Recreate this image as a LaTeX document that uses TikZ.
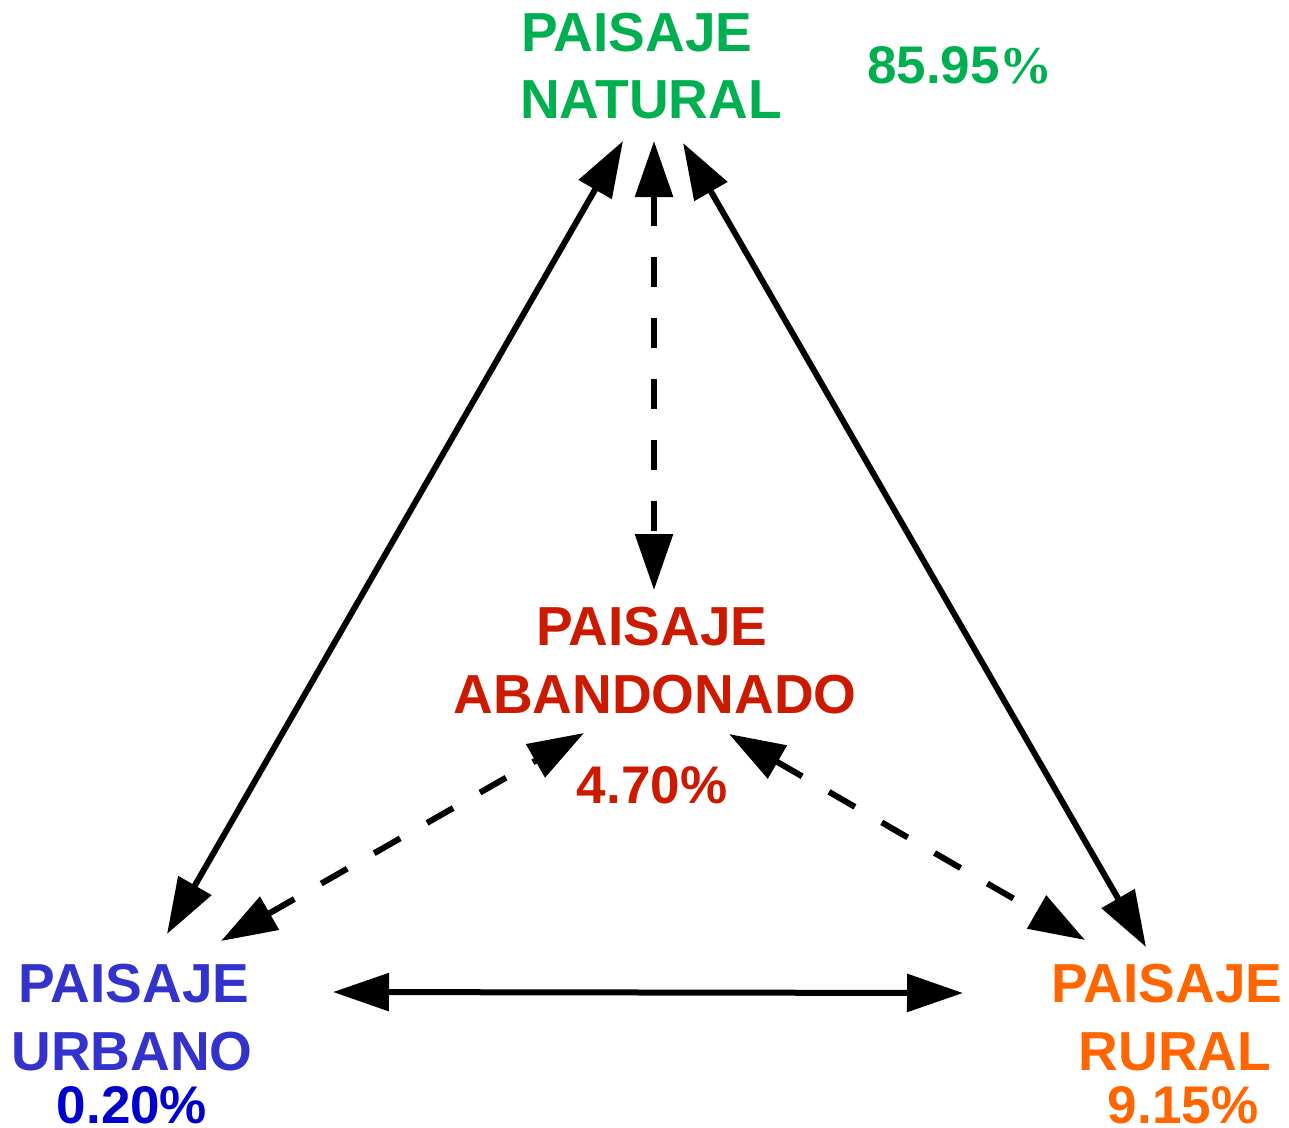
\documentclass[tikz,border=0pt]{standalone}
\usepackage{fontspec}
\setmainfont{Liberation Sans}
\newfontfamily\serifpct{Liberation Serif}
\usetikzlibrary{arrows.meta}
\definecolor{cgreen}{HTML}{00B050}
\definecolor{cred}{HTML}{CC1A00}
\definecolor{cblue}{HTML}{3333CC}
\definecolor{cdblue}{HTML}{0000CC}
\definecolor{corange}{HTML}{FF6600}
\tikzset{
  lbl/.style={inner sep=0pt, anchor=base, font=\fontsize{55}{66}\selectfont\bfseries},
  pct/.style={inner sep=0pt, anchor=base, font=\fontsize{53}{64}\selectfont\bfseries},
  link/.style={line width=6pt, {Triangle[length=56pt,width=37pt]}-{Triangle[length=56pt,width=37pt]}},
  dlink/.style={link, dash pattern=on 30pt off 31pt},
}
\begin{document}
\begin{tikzpicture}[x=1pt,y=-1pt]
\useasboundingbox (0,0) rectangle (1289,1127);
% labels
\node[lbl,text=cgreen] (nat1) at (637,51) {PAISAJE};
\node[lbl,text=cgreen] (nat2) at (651,118) {NATURAL};
\node[pct,text=cgreen] (natp) at (960,83) {85.95{\serifpct\%}};
\node[lbl,text=cred] (aba1) at (652,645) {PAISAJE};
\node[lbl,text=cred] (aba2) at (655,713) {ABANDONADO};
\node[pct,text=cred] (abap) at (652,803) {4.70\%};
\node[lbl,text=cblue] (urb1) at (134,1002) {PAISAJE};
\node[lbl,text=cblue] (urb2) at (132,1070) {URBANO};
\node[pct,text=cdblue] (urbp) at (132,1123) {0.20\%};
\node[lbl,text=corange] (rur1) at (1167,1002) {PAISAJE};
\node[lbl,text=corange] (rur2) at (1175,1070) {RURAL};
\node[pct,text=corange] (rurp) at (1183,1123) {9.15\%};
% arrow end points
\coordinate (natL) at (623,141);
\coordinate (natM) at (654,141);
\coordinate (natR) at (683,143);
\coordinate (urbT) at (167,934);
\coordinate (urbD) at (221,941);
\coordinate (urbE) at (333,992);
\coordinate (rurT) at (1146,947);
\coordinate (rurD) at (1085,940);
\coordinate (rurW) at (963,993);
\coordinate (abaT) at (654,590);
\coordinate (abaL) at (584,733);
\coordinate (abaR) at (729,734);
% connectors
\draw[link] (natL) -- (urbT);
\draw[link] (natR) -- (rurT);
\draw[link] (urbE) -- (rurW);
\draw[dlink] (natM) -- (abaT);
\draw[dlink] (urbD) -- (abaL);
\draw[dlink] (abaR) -- (rurD);
\end{tikzpicture}
\end{document}
